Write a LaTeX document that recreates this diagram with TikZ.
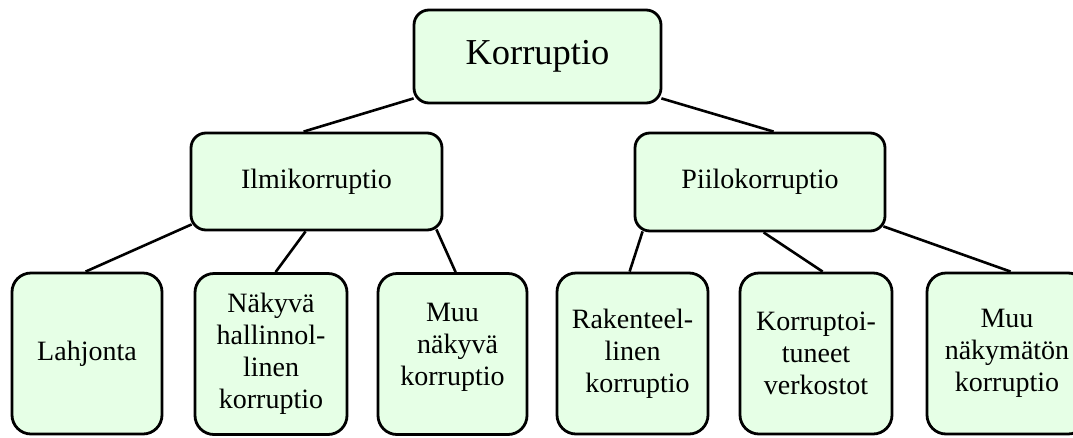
\documentclass[tikz,border=0pt]{standalone}
\usepackage{fontspec}
\setmainfont{Liberation Serif}
\usetikzlibrary{calc,backgrounds}
\definecolor{boxfill}{RGB}{230,255,230}
\begin{document}
\begin{tikzpicture}[x=1pt,y=-1pt,
  box/.style={draw=black, line width=2.8pt, fill=boxfill, rectangle, inner sep=0pt, align=center},
  topbox/.style={box, rounded corners=15pt, font=\fontsize{36.5}{40}\selectfont},
  midbox/.style={box, rounded corners=15pt, font=\fontsize{28}{32}\selectfont},
  leafbox/.style={box, rounded corners=19pt, minimum height=161pt, font=\fontsize{28}{32}\selectfont},
  link/.style={line width=2.6pt, draw=black}]
\useasboundingbox (0,0) rectangle (1073,437);
\node[topbox, minimum width=247pt, minimum height=93pt] (k) at (537.5,56.5) {Korruptio};
\node[midbox, minimum width=251pt, minimum height=97pt] (ilmi) at (316.5,181.5) {Ilmikorruptio};
\node[midbox, minimum width=250pt, minimum height=98pt] (piilo) at (760,182) {Piilokorruptio};
\node[leafbox, minimum width=150pt] (lah) at (87,353.5) {Lahjonta};
\node[leafbox, minimum width=152pt] (nak) at (271,354) {Näkyvä\\hallinnol-\\linen\\korruptio};
\node[leafbox, minimum width=149pt, align=none] (muu1) at (452.5,354) {\raisebox{7pt}[\height][\depth]{\begin{tabular}{@{}c@{}}Muu\\\hspace*{10pt}näkyvä\\korruptio\end{tabular}}};
\node[leafbox, minimum width=151pt] (rak) at (632.5,353.5) {Rakenteel-\\linen\hspace*{6pt}\\\hspace*{10pt}korruptio};
\node[leafbox, minimum width=152pt] (kor) at (816,353.5) {Korruptoi-\\tuneet\\verkostot};
\node[leafbox, minimum width=160pt] (muu2) at (1007,353.5) {Muu\\näkymätön\\korruptio};
\begin{pgfonlayer}{background}
\draw[link] ($(k.south west)+(1,-6)$) -- ($(ilmi.north west)+(114,0)$);
\draw[link] ($(k.south east)+(-1,-6)$) -- ($(piilo.north west)+(140,0)$);
\draw[link] ($(ilmi.south west)+(2,-7)$) -- ($(lah.north west)+(75,0)$);
\draw[link] ($(ilmi.south west)+(116,0)$) -- ($(nak.north west)+(82,0)$);
\draw[link] ($(ilmi.south east)+(-7,-2)$) -- ($(muu1.north west)+(79,0)$);
\draw[link] ($(piilo.south west)+(9,-1)$) -- ($(rak.north west)+(74,0)$);
\draw[link] ($(piilo.south west)+(130,0)$) -- ($(kor.north west)+(84,0)$);
\draw[link] ($(piilo.south east)+(-3,-6)$) -- ($(muu2.north west)+(85,0)$);
\end{pgfonlayer}
\end{tikzpicture}
\end{document}
